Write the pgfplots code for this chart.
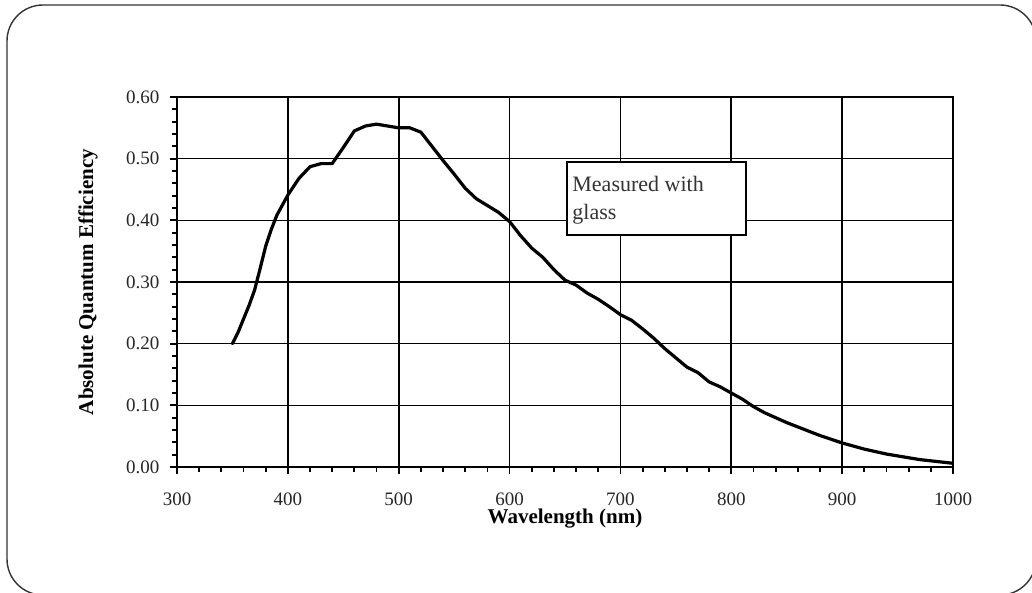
\documentclass[border=0pt]{standalone}
\usepackage{fontspec}
\setmainfont{Liberation Serif}
\usepackage{pgfplots}
\pgfplotsset{compat=1.18}
\pgfplotstableread{
wl qe
350 0.200
355 0.218
360 0.240
365 0.262
370 0.287
375 0.322
380 0.358
385 0.385
390 0.408
400 0.441
410 0.468
420 0.487
430 0.492
440 0.492
450 0.518
460 0.545
470 0.553
480 0.556
490 0.553
500 0.550
510 0.550
520 0.543
530 0.520
540 0.497
550 0.475
560 0.452
570 0.435
580 0.424
590 0.413
600 0.398
610 0.375
620 0.355
630 0.340
640 0.320
650 0.303
660 0.295
670 0.282
680 0.272
690 0.260
700 0.247
710 0.238
720 0.224
730 0.209
740 0.192
750 0.177
760 0.162
770 0.153
780 0.138
790 0.130
800 0.120
810 0.110
820 0.098
830 0.088
840 0.080
850 0.072
860 0.065
870 0.058
880 0.051
890 0.045
900 0.039
910 0.034
920 0.029
930 0.025
940 0.021
950 0.018
960 0.015
970 0.012
980 0.010
990 0.008
1000 0.006
}\qedata
\begin{document}
\begin{tikzpicture}
\useasboundingbox (0,0) rectangle (516pt,296.5pt);
\draw[color=black!80, line width=0.7pt, rounded corners=18pt] (3.5pt,-1pt) rectangle (518pt,294pt);
\begin{axis}[
  at={(88.5pt,63pt)}, anchor=south west,
  scale only axis, width=388pt, height=185pt,
  xmin=300, xmax=1000, ymin=0, ymax=0.6,
  xtick={300,400,500,600,700,800,900,1000},
  ytick={0,0.1,0.2,0.3,0.4,0.5,0.6},
  minor x tick num=4, minor y tick num=4,
  tick align=outside, tick pos=left,
  major tick length=3.5pt, minor tick length=2.5pt,
  grid=major, major grid style={black, line width=0.8pt},
  axis line style={black, line width=1.1pt},
  tick style={black, line width=0.9pt},
  /pgf/number format/assume math mode=true,
  ticklabel style={font=\fontsize{9.5}{11}\selectfont, text=black!85},
  yticklabel style={/pgf/number format/.cd, fixed, fixed zerofill, precision=2, /tikz/.cd, xshift=-1.8pt},
  xticklabel style={/pgf/number format/1000 sep={}, yshift=-6pt},
  xlabel={Wavelength (nm)},
  ylabel={Absolute Quantum Efficiency},
  label style={font=\fontsize{10.5}{12}\selectfont\bfseries},
  xlabel style={at={(axis description cs:0.5,-0.1405)}, anchor=center},
  ylabel style={at={(axis description cs:-0.1147,0.5)}, anchor=center},
]
\addplot[black, line width=1.6pt, line join=round, line cap=round] table[x=wl, y=qe] {\qedata};
\end{axis}
\draw[black, line width=1pt, fill=white] (283.3pt,179pt) rectangle (373pt,215.6pt);
\node[anchor=base west, inner sep=0pt, font=\fontsize{11}{13}\selectfont, text=black!80] at (286pt,200.5pt) {Measured with};
\node[anchor=base west, inner sep=0pt, font=\fontsize{11}{13}\selectfont, text=black!80] at (286pt,186.5pt) {glass};
\end{tikzpicture}
\end{document}
